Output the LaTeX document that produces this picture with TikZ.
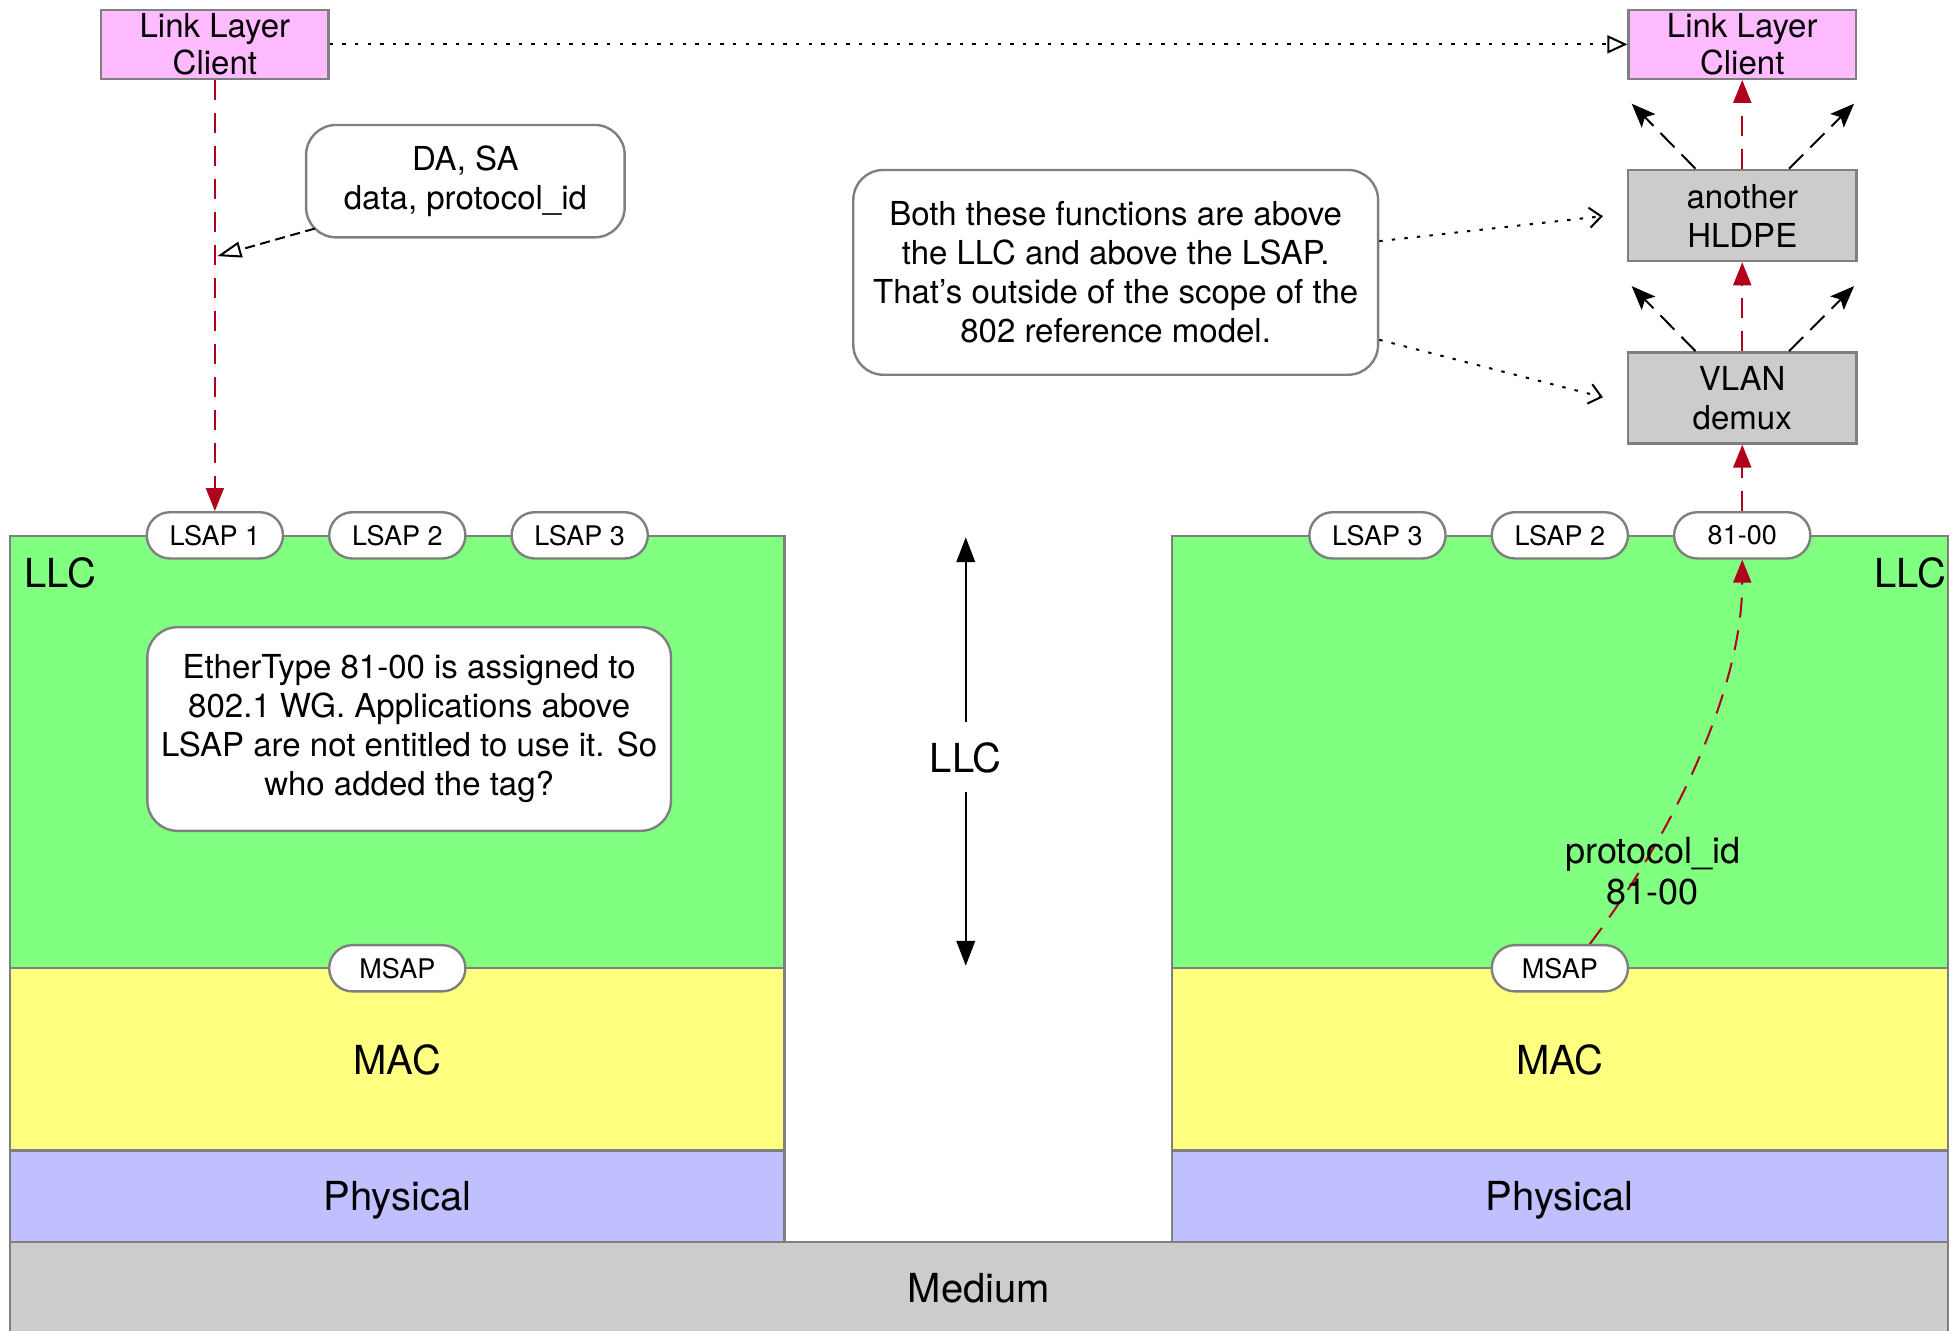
\documentclass[tikz,border=0pt]{standalone}
\usepackage{fontspec}
\setmainfont{TeX Gyre Heros}
\usetikzlibrary{arrows.meta,calc}
\definecolor{llcgreen}{HTML}{80FF80}
\definecolor{macyellow}{HTML}{FFFF80}
\definecolor{phyblue}{HTML}{C0C0FF}
\definecolor{medgray}{HTML}{CCCCCC}
\definecolor{clientpink}{HTML}{FFBBFF}
\definecolor{edgegray}{HTML}{7F7F7F}
\definecolor{darkred}{HTML}{B0001C}
\begin{document}
\begin{tikzpicture}[x=0.6247pt,y=-0.6247pt,
  layer/.style={draw=edgegray, line width=1.2pt, inner sep=0pt, anchor=center},
  biglabel/.style={font=\fontsize{20}{24}\selectfont, inner sep=0pt, text depth=0pt},
  pill/.style={draw=edgegray, fill=white, line width=1.2pt, rounded corners=11.5pt,
    minimum width=68.1pt, minimum height=23.1pt, inner sep=0pt, font=\fontsize{13.5}{16}\selectfont},
  note/.style={draw=edgegray, fill=white, line width=1.2pt, rounded corners=15pt,
    align=center, inner sep=0pt, font=\fontsize{16.5}{19.5}\selectfont},
  clientbox/.style={draw=edgegray, fill=clientpink, line width=1.2pt, align=center, inner sep=0pt,
    minimum width=113.7pt, minimum height=34.4pt, font=\fontsize{16.5}{18.7}\selectfont},
  funcbox/.style={draw=edgegray, fill=medgray, line width=1.2pt, align=center, inner sep=0pt,
    minimum width=114.3pt, minimum height=45.6pt, font=\fontsize{16.5}{19.5}\selectfont},
  redarrow/.style={draw=darkred, line width=1pt, dash pattern=on 10pt off 6.5pt,
    -{Triangle[length=11.5pt,width=9pt,fill=darkred]}},
  blackarrow/.style={draw=black, line width=1pt, -{Triangle[length=12.5pt,width=9.3pt]}},
  fanarrow/.style={draw=black, line width=1pt, dash pattern=on 10pt off 5pt,
    -{Stealth[length=12pt,width=9.5pt,inset=2.5pt]}},
  dotarrow/.style={draw=black, line width=1pt, dash pattern=on 1.7pt off 4.6pt},
]
\useasboundingbox (0,0) rectangle (1568,1065);

% ---- left stack ----
\node[layer, fill=llcgreen, minimum width=387.3pt, minimum height=216.1pt] (llcL) at (318,602) {};
\node[layer, fill=macyellow, minimum width=387.3pt, minimum height=91.2pt, biglabel] (macL) at (318,848) {MAC};
\node[layer, fill=phyblue, minimum width=387.3pt, minimum height=45.6pt, biglabel] (phyL) at (318,957.5) {Physical};
% ---- right stack ----
\node[layer, fill=llcgreen, minimum width=387.9pt, minimum height=216.1pt] (llcR) at (1248.5,602) {};
\node[layer, fill=macyellow, minimum width=387.9pt, minimum height=91.2pt, biglabel] (macR) at (1248.5,848) {MAC};
\node[layer, fill=phyblue, minimum width=387.9pt, minimum height=45.6pt, biglabel] (phyR) at (1248.5,957.5) {Physical};
% ---- medium ----
\node[layer, fill=medgray, minimum width=968.9pt, minimum height=46.2pt] (medium) at (783.5,1031) {};
\node[biglabel] (mediumlbl) at (783.5,1031) {Medium};

% LLC labels
\node[biglabel, anchor=west] (llcLlbl) at (19,458) {LLC};
\node[biglabel, anchor=east] (llcRlbl) at (1558,458) {LLC};

% ---- service access points ----
\node[pill] (lsapL1) at (172,428.5) {LSAP 1};
\node[pill] (lsapL2) at (318,428.5) {LSAP 2};
\node[pill] (lsapL3) at (464,428.5) {LSAP 3};
\node[pill] (msapL) at (318,775) {MSAP};
\node[pill] (lsapR3) at (1102.5,428.5) {LSAP 3};
\node[pill] (lsapR2) at (1248.5,428.5) {LSAP 2};
\node[pill] (p8100) at (1394.5,428.5) {81-00};
\node[pill] (msapR) at (1248.5,775) {MSAP};

% ---- clients and functions ----
\node[clientbox] (clientL) at (172,35.5) {Link Layer\\Client};
\node[clientbox] (clientR) at (1394.5,35.5) {Link Layer\\Client};
\node[funcbox] (hldpe) at (1394.5,172.5) {another\\HLDPE};
\node[funcbox] (vlan) at (1394.5,318.5) {VLAN\\demux};

% ---- notes ----
\node[note, minimum width=159.3pt, minimum height=56.2pt] (dasa) at (372.5,145) {DA, SA\\data, protocol\_id};
\node[note, minimum width=262.4pt, minimum height=102.4pt] (both) at (893,218)
  {Both these functions are above\\the LLC and above the LSAP.\\That’s outside of the scope of the\\802 reference model.};
\node[note, minimum width=261.8pt, minimum height=101.8pt] (ether) at (327.5,583.5)
  {EtherType 81-00 is assigned to\\802.1 WG. Applications above\\LSAP are not entitled to use it. So\\who added the tag?};

% ---- connectors ----
\draw[dotarrow, -{Triangle[open,length=10pt,width=9pt,fill=white]}] (clientL.east) -- (clientR.west);
\draw[redarrow] (clientL.south) -- (lsapL1.north);
\coordinate (daTip) at (174,205);
\draw[draw=black, line width=1pt, dash pattern=on 5pt off 2.8pt, -{Triangle[open,length=12pt,width=8pt,fill=white]}]
  ($(dasa.south west)+(8,-8)$) -- (daTip);

\draw[redarrow] (p8100.north) -- (vlan.south);
\draw[redarrow] (vlan.north) -- (hldpe.south);
\draw[redarrow] (hldpe.north) -- (clientR.south);

\coordinate (vlanTL) at (1306,229);
\coordinate (vlanTR) at (1484,229);
\coordinate (hldTL) at (1306,83);
\coordinate (hldTR) at (1484,83);
\draw[fanarrow] ($(vlan.north west)+(55,0)$) -- (vlanTL);
\draw[fanarrow] ($(vlan.north east)+(-55,0)$) -- (vlanTR);
\draw[fanarrow] ($(hldpe.north west)+(55,0)$) -- (hldTL);
\draw[fanarrow] ($(hldpe.north east)+(-55,0)$) -- (hldTR);

\coordinate (bothTip1) at (1283,173);
\coordinate (bothTip2) at (1283,318);
\draw[dotarrow, -{Straight Barb[length=6pt,width=10pt]}] ($(both.east)+(0,-25)$) -- (bothTip1);
\draw[dotarrow, -{Straight Barb[length=6pt,width=10pt]}] ($(both.east)+(0,54)$) -- (bothTip2);

\draw[redarrow] ($(msapR.north)+(24,0)$) .. controls (1330,680) and (1394.5,560) .. (p8100.south);
\node[font=\fontsize{18}{20.6}\selectfont, align=center, inner sep=0pt] (protolbl) at (1323,697) {protocol\_id\\81-00};

% ---- centre double arrow ----
\node[biglabel, inner sep=10pt] (llcC) at (773,606) {LLC};
\coordinate (cTop) at (773,430);
\coordinate (cBot) at (773,773);
\draw[blackarrow] (llcC) -- (cTop);
\draw[blackarrow] (llcC) -- (cBot);
\end{tikzpicture}
\end{document}
